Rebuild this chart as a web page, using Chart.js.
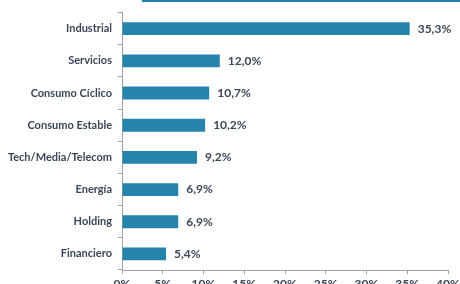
<!DOCTYPE html>
<html>
<head>
<meta charset="utf-8">
<script src="https://cdn.jsdelivr.net/npm/chart.js@4"></script>
<style>
  html, body { margin: 0; padding: 0; background: #fff; }
  #wrap { position: relative; width: 460px; height: 284px; overflow: hidden; }
  #topline { position: absolute; left: 142px; top: 0; width: 318px; height: 2px; background: #2683ab; }
</style>
</head>
<body>
<div id="wrap">
  <canvas id="chart" width="460" height="284"></canvas>
  <div id="topline"></div>
</div>
<script>
// datos del gráfico
const sectores = ['Industrial', 'Servicios', 'Consumo Cíclico', 'Consumo Estable', 'Tech/Media/Telecom', 'Energía', 'Holding', 'Financiero'];
const pesos = [35.3, 12.0, 10.7, 10.2, 9.2, 6.9, 6.9, 5.4];
const xTicks = [0, 5, 10, 15, 20, 25, 30, 35, 40];

const azul = '#2683ab';
const textoColor = '#3b4656';
const ejeColor = '#a0a0a0';
const fuente = 'Lato, "DejaVu Sans", sans-serif';

// etiqueta con el valor al final de cada barra
const etiquetas = {
    id: 'etiquetas',
    afterDatasetsDraw(chart) {
        const ctx = chart.ctx;
        const meta = chart.getDatasetMeta(0);
        ctx.save();
        ctx.font = 'bold 12px ' + fuente;
        ctx.fillStyle = textoColor;
        ctx.textAlign = 'left';
        ctx.textBaseline = 'middle';
        meta.data.forEach((bar, i) => {
            ctx.fillText(pesos[i].toFixed(1).replace('.', ',') + '%', bar.x + 8, bar.y);
        });
        ctx.restore();
    }
};

new Chart(document.getElementById('chart'), {
    type: 'bar',
    data: {
        labels: sectores,
        datasets: [{
            data: pesos,
            backgroundColor: azul,
            borderWidth: 0,
            categoryPercentage: 0.4,
            barPercentage: 1.0
        }]
    },
    options: {
        indexAxis: 'y',
        responsive: false,
        animation: false,
        layout: { padding: { top: 11, right: 0, left: 0, bottom: 0 } },
        plugins: { legend: { display: false }, tooltip: { enabled: false } },
        scales: {
            x: {
                min: 0,
                max: 40,
                afterBuildTicks: (axis) => { axis.ticks = xTicks.map(v => ({ value: v })); },
                afterFit: (axis) => { axis.height = 14; axis.paddingRight = 12; },
                grid: { drawOnChartArea: false, color: ejeColor, tickLength: 4 },
                border: { color: ejeColor, width: 1 },
                ticks: {
                    color: textoColor,
                    font: { family: fuente, size: 12, weight: 'bold' },
                    padding: 3,
                    maxRotation: 0,
                    callback: (v) => v + '%'
                }
            },
            y: {
                afterFit: (axis) => { axis.width = 122; },
                grid: { drawOnChartArea: false, color: ejeColor, tickLength: 4, offset: true },
                border: { color: ejeColor, width: 1 },
                ticks: {
                    color: textoColor,
                    font: { family: fuente, size: 11, weight: 'bold' },
                    padding: 6
                }
            }
        }
    },
    plugins: [etiquetas]
});
</script>
</body>
</html>
